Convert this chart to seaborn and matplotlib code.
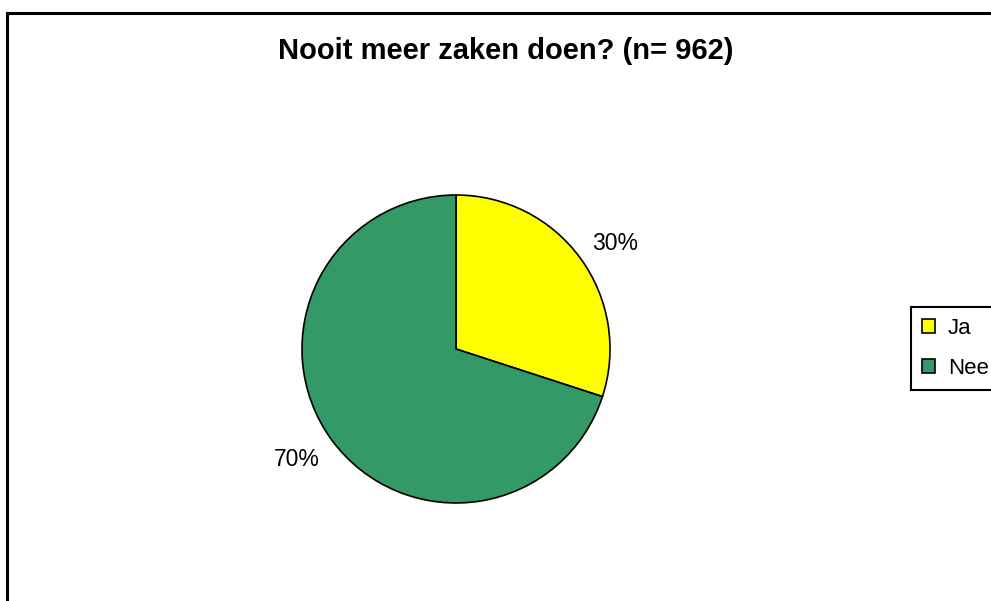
import matplotlib
matplotlib.use("Agg")
import matplotlib.pyplot as plt
from matplotlib.patches import Rectangle, Patch
import numpy as np
import seaborn as sns

categories = ["Ja", "Nee"]
shares = [30, 70]
pct_labels = ["30%", "70%"]
title_text = "Nooit meer zaken doen? (n= 962)"

sns.set_theme(style="white")
plt.rcParams["font.family"] = ["Liberation Sans", "DejaVu Sans"]
plt.rcParams["text.color"] = "black"

colors = ["#FFFF00", "#339966"]

W, H = 991, 601
fig = plt.figure(figsize=(W / 100, H / 100), dpi=100)
fig.patch.set_facecolor("white")

# outer chart frame (runs past the right and bottom edges)
fig.patches.append(Rectangle((6.5 / W, -0.1), 1.2, 1 - 12.5 / H + 0.1,
                             transform=fig.transFigure, fill=False,
                             edgecolor="black", linewidth=2.2))

cx, cy, r = 456, 349, 154
ax = fig.add_axes([(cx - r) / W, (H - cy - r) / H, 2 * r / W, 2 * r / H])
wedges, _ = ax.pie(shares, colors=colors, startangle=90, counterclock=False,
                   radius=1.0, wedgeprops=dict(edgecolor="black", linewidth=1.2))
ax.set_xlim(-1, 1)
ax.set_ylim(-1, 1)
ax.set_aspect("equal")
ax.axis("off")

# percentage labels outside the slices
for w, lab in zip(wedges, pct_labels):
    mid = np.deg2rad((w.theta1 + w.theta2) / 2)
    ax.text(1.28 * np.cos(mid), 1.19 * np.sin(mid), lab, ha="center",
            va="center_baseline", fontsize=16.5, color="black", clip_on=False)

fig.text(506 / W, 1 - 59 / H, title_text, ha="center", va="baseline",
         fontsize=21, fontweight="bold", color="black")

handles = [Patch(facecolor=c, edgecolor="black", linewidth=1.2) for c in colors]
leg = fig.legend(handles, categories, loc="upper left",
                 bbox_to_anchor=(911 / W, 1 - 307 / H), borderaxespad=0,
                 fontsize=16, frameon=True, fancybox=False, framealpha=1,
                 handlelength=0.6, handleheight=0.6, handletextpad=0.55,
                 labelspacing=0.85, borderpad=0.5)
for t in leg.get_texts():
    t.set_color("black")
leg.get_frame().set_edgecolor("black")
leg.get_frame().set_linewidth(1.5)

fig.savefig("out.png", dpi=100)
